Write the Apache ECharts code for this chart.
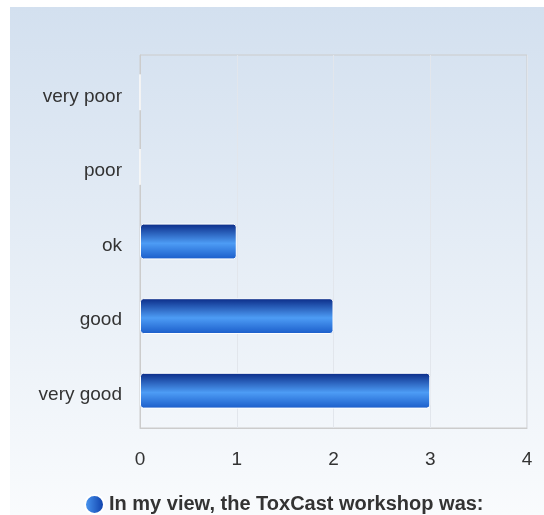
<!DOCTYPE html>
<html>
<head>
<meta charset="utf-8">
<script src="https://cdn.jsdelivr.net/npm/echarts@6/dist/echarts.min.js"></script>
<style>
  html, body { margin: 0; padding: 0; background: #fff; }
  #chart { position: absolute; left: 10px; top: 7px; width: 534px; height: 508px; }
</style>
</head>
<body>
<div id="chart"></div>
<script>
// categories listed bottom-to-top (echarts category y axis starts at bottom)
var categories = ['very good', 'good', 'ok', 'poor', 'very poor'];
var values = [3, 2, 1, 0, 0];
var seriesName = 'In my view, the ToxCast workshop was:';
var xTicks = [0, 1, 2, 3, 4];

var chartDom = document.getElementById('chart');
var myChart = echarts.init(chartDom);
var option;

var barColor = new echarts.graphic.LinearGradient(0, 0, 0, 1, [
  { offset: 0, color: '#0a2a86' },
  { offset: 0.55, color: '#4d9cf5' },
  { offset: 1, color: '#1a5cc9' }
]);

option = {
  backgroundColor: new echarts.graphic.LinearGradient(0, 0, 0, 1, [
    { offset: 0, color: '#d3e0ef' },
    { offset: 1, color: '#f9fbfd' }
  ]),
  animation: false,
  legend: {
    top: 487,
    left: 74,
    padding: 0,
    itemWidth: 19,
    itemHeight: 19,
    itemGap: 4,
    icon: 'circle',
    textStyle: {
      fontFamily: 'Liberation Sans, Arial, sans-serif',
      fontSize: 20,
      fontWeight: 'bold',
      color: '#333'
    },
    data: [{
      name: seriesName,
      itemStyle: {
        color: new echarts.graphic.LinearGradient(0, 0, 1, 0, [
          { offset: 0, color: '#4d9cf5' },
          { offset: 1, color: '#0a3aa6' }
        ])
      }
    }]
  },
  grid: {
    left: 130,
    right: 17,
    top: 48,
    bottom: 87,
    show: true,
    borderColor: '#cccccc',
    borderWidth: 1,
    backgroundColor: 'transparent'
  },
  xAxis: {
    type: 'value',
    min: xTicks[0],
    max: xTicks[xTicks.length - 1],
    interval: 1,
    axisLine: { show: true, lineStyle: { color: '#cccccc', width: 1 } },
    axisTick: { show: false },
    axisLabel: {
      margin: 22,
      fontFamily: 'Liberation Sans, Arial, sans-serif',
      fontSize: 19,
      color: '#333'
    },
    splitLine: { show: true, lineStyle: { color: '#e2e6ec' } }
  },
  yAxis: {
    type: 'category',
    data: categories,
    axisLine: { show: true, lineStyle: { color: '#cccccc', width: 1 } },
    axisTick: { show: false },
    axisLabel: {
      margin: 18,
      verticalAlign: 'top',
      lineHeight: 8,
      fontFamily: 'Liberation Sans, Arial, sans-serif',
      fontSize: 19,
      color: '#333'
    },
    splitLine: { show: false }
  },
  series: [
    {
      name: seriesName,
      type: 'bar',
      data: values,
      barWidth: '48%',
      itemStyle: {
        color: barColor,
        borderColor: '#ffffff',
        borderWidth: 1,
        borderRadius: 3
      }
    }
  ]
};

option && myChart.setOption(option);
</script>
</body>
</html>
